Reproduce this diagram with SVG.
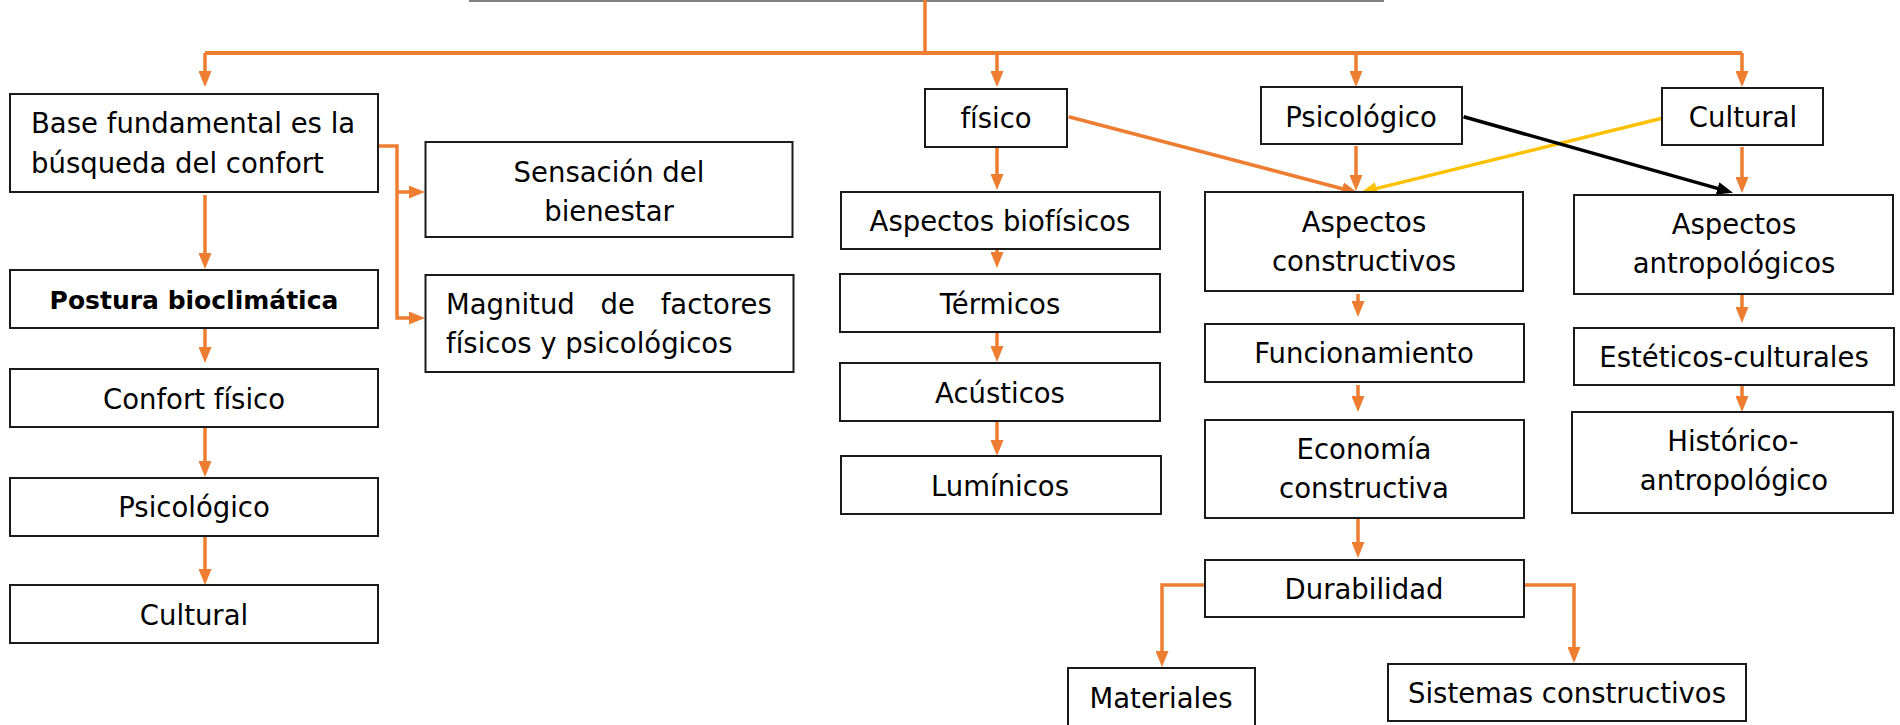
<svg xmlns="http://www.w3.org/2000/svg" width="1900" height="725" viewBox="0 0 1900 725">
<style>
.box{fill:#fff;stroke:#1a1a1a;stroke-width:2}
.t{font-family:"DejaVu Sans","Liberation Sans",sans-serif;font-size:27.5px;fill:#000;text-anchor:middle}
.tl{text-anchor:start}
.b{font-weight:bold;font-size:25px}
.c{fill:none;stroke:#ED7D31;stroke-width:3.5}
.trunk{stroke-width:4}
</style>
<defs>
<marker id="ao" viewBox="0 0 16 13" refX="10" refY="6.5" markerWidth="16" markerHeight="13" markerUnits="userSpaceOnUse" orient="auto"><path d="M0,0 L16,6.5 L0,13 z" fill="#ED7D31"/></marker>
<marker id="ay" viewBox="0 0 16 13" refX="10" refY="6.5" markerWidth="16" markerHeight="13" markerUnits="userSpaceOnUse" orient="auto"><path d="M0,0 L16,6.5 L0,13 z" fill="#FFC000"/></marker>
<marker id="ak" viewBox="0 0 16 13" refX="10" refY="6.5" markerWidth="16" markerHeight="13" markerUnits="userSpaceOnUse" orient="auto"><path d="M0,0 L16,6.5 L0,13 z" fill="#000"/></marker>
</defs>
<rect width="1900" height="725" fill="#fff"/>
<line x1="469" y1="1" x2="1384" y2="1" stroke="#808080" stroke-width="2"/>

<g id="connectors">
<path class="c" d="M925,0 V53"/>
<path class="c trunk" d="M205,53 H1742"/>
<path class="c" d="M205,53 V81" marker-end="url(#ao)"/>
<path class="c" d="M997,53 V81" marker-end="url(#ao)"/>
<path class="c" d="M1356,53 V81" marker-end="url(#ao)"/>
<path class="c" d="M1742,53 V81" marker-end="url(#ao)"/>
<path class="c" d="M378,146 H397 V318 H419" marker-end="url(#ao)"/>
<path class="c" d="M397,192 H419" marker-end="url(#ao)"/>
<path class="c" d="M205,195 V263" marker-end="url(#ao)"/>
<path class="c" d="M205,329 V357" marker-end="url(#ao)"/>
<path class="c" d="M205,428 V471" marker-end="url(#ao)"/>
<path class="c" d="M205,537 V579" marker-end="url(#ao)"/>
<path class="c" d="M997,148 V184" marker-end="url(#ao)"/>
<path class="c" d="M997,250 V262" marker-end="url(#ao)"/>
<path class="c" d="M997,333 V356" marker-end="url(#ao)"/>
<path class="c" d="M997,422 V450" marker-end="url(#ao)"/>
<path class="c" d="M1356,146 V185" marker-end="url(#ao)"/>
<path class="c" d="M1068.7,116.7 L1351.9,191.2" marker-end="url(#ao)"/>
<path fill="none" stroke="#FFC000" stroke-width="3.5" d="M1662,118.3 L1366.8,190.9" marker-end="url(#ay)"/>
<path fill="none" stroke="#000" stroke-width="3.5" d="M1463.6,116.7 L1727.2,191.1" marker-end="url(#ak)"/>
<path class="c" d="M1742,147 V187" marker-end="url(#ao)"/>
<path class="c" d="M1358,294 V311" marker-end="url(#ao)"/>
<path class="c" d="M1358,385 V406" marker-end="url(#ao)"/>
<path class="c" d="M1358,519 V552" marker-end="url(#ao)"/>
<path class="c" d="M1742,295 V317" marker-end="url(#ao)"/>
<path class="c" d="M1742,386 V406" marker-end="url(#ao)"/>
<path class="c" d="M1205,585 H1162 V661" marker-end="url(#ao)"/>
<path class="c" d="M1524,585 H1574 V657" marker-end="url(#ao)"/>
</g>

<g id="n-base"><rect class="box" x="10" y="94" width="368" height="98"/>
<text class="t tl" x="31" y="133">Base fundamental es la</text>
<text class="t tl" x="31" y="173">búsqueda del confort</text></g>
<g id="n-sensacion"><rect class="box" x="425.5" y="142" width="367" height="95"/>
<text class="t" x="609" y="182">Sensación del</text>
<text class="t" x="609" y="221">bienestar</text></g>
<g id="n-magnitud"><rect class="box" x="425.5" y="275" width="368" height="97"/>
<text class="t tl" x="446" y="314" word-spacing="17">Magnitud de factores</text>
<text class="t tl" x="446" y="353">físicos y psicológicos</text></g>
<g id="n-postura"><rect class="box" x="10" y="270" width="368" height="58"/>
<text class="t b" x="194" y="309">Postura bioclimática</text></g>
<g id="n-confort"><rect class="box" x="10" y="369" width="368" height="58"/>
<text class="t" x="194" y="409">Confort físico</text></g>
<g id="n-psico-l"><rect class="box" x="10" y="478" width="368" height="58"/>
<text class="t" x="194" y="517">Psicológico</text></g>
<g id="n-cultural-l"><rect class="box" x="10" y="585" width="368" height="58"/>
<text class="t" x="194" y="625">Cultural</text></g>

<g id="n-fisico"><rect class="box" x="925" y="89" width="142" height="58"/>
<text class="t" x="996" y="128">físico</text></g>
<g id="n-psico"><rect class="box" x="1261" y="87" width="201" height="57"/>
<text class="t" x="1361" y="127">Psicológico</text></g>
<g id="n-cultural"><rect class="box" x="1662" y="88" width="161" height="57"/>
<text class="t" x="1743" y="127">Cultural</text></g>

<g id="n-biofisicos"><rect class="box" x="841" y="192" width="319" height="57"/>
<text class="t" x="1000" y="231">Aspectos biofísicos</text></g>
<g id="n-termicos"><rect class="box" x="840" y="274" width="320" height="58"/>
<text class="t" x="1000" y="314">Térmicos</text></g>
<g id="n-acusticos"><rect class="box" x="840" y="363" width="320" height="58"/>
<text class="t" x="1000" y="403">Acústicos</text></g>
<g id="n-luminicos"><rect class="box" x="841" y="456" width="320" height="58"/>
<text class="t" x="1000" y="496">Lumínicos</text></g>

<g id="n-constructivos"><rect class="box" x="1205" y="192" width="318" height="99"/>
<text class="t" x="1364" y="232">Aspectos</text>
<text class="t" x="1364" y="271">constructivos</text></g>
<g id="n-funcionamiento"><rect class="box" x="1205" y="324" width="319" height="58"/>
<text class="t" x="1364" y="363">Funcionamiento</text></g>
<g id="n-economia"><rect class="box" x="1205" y="420" width="319" height="98"/>
<text class="t" x="1364" y="459">Economía</text>
<text class="t" x="1364" y="498">constructiva</text></g>
<g id="n-durabilidad"><rect class="box" x="1205" y="560" width="319" height="57"/>
<text class="t" x="1364" y="599">Durabilidad</text></g>
<g id="n-materiales"><rect class="box" x="1068" y="668" width="187" height="70"/>
<text class="t" x="1161" y="708">Materiales</text></g>
<g id="n-sistemas"><rect class="box" x="1388" y="664" width="358" height="57"/>
<text class="t" x="1567" y="703">Sistemas constructivos</text></g>

<g id="n-antropologicos"><rect class="box" x="1574" y="195" width="319" height="99"/>
<text class="t" x="1734" y="234">Aspectos</text>
<text class="t" x="1734" y="273">antropológicos</text></g>
<g id="n-esteticos"><rect class="box" x="1574" y="328" width="320" height="57"/>
<text class="t" x="1734" y="367">Estéticos-culturales</text></g>
<g id="n-historico"><rect class="box" x="1572" y="412" width="321" height="101"/>
<text class="t" x="1733" y="451">Histórico-</text>
<text class="t" x="1734" y="490">antropológico</text></g>
</svg>
